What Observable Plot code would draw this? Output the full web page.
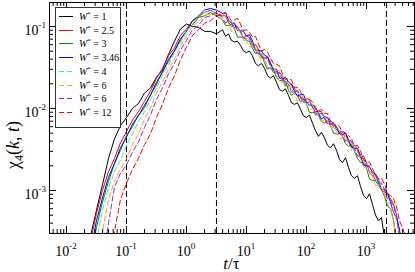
<!DOCTYPE html>
<html><head><meta charset="utf-8">
<script src="https://cdn.jsdelivr.net/npm/d3@7"></script>
<script src="https://cdn.jsdelivr.net/npm/@observablehq/plot@0.6"></script>
<style>body{margin:0;background:#fff}</style>
</head><body><div id="chart"></div>
<script>
// time grid t/τ (log-spaced)
const tValues = [0.0251,0.0316,0.0398,0.0501,0.0631,0.0794,0.1,0.126,0.158,0.2,0.251,0.316,0.398,0.501,0.631,0.794,1,1.26,1.58,2,2.51,3.16,
  3.98,4.47,5.01,5.62,6.31,7.08,7.94,8.91,10,
  11.2,12.6,14.1,15.8,17.8,20,22.4,25.1,28.2,31.6,
  35.5,39.8,44.7,50.1,56.2,63.1,70.8,79.4,89.1,100,
  112,126,141,158,178,200,224,251,282,316,
  355,398,447,501,562,631,708,794,891,1000,
  1122,1259,1413,1585,1778,1995,2239,2512,2818,3162,
  3548,3981,4467,5012];

const seriesLabels = ["1", "2.5", "3", "3.46", "4", "6", "6", "12"];

// log10 of chi_4(k,t) for each W*, aligned with tValues (null = not drawn)
const log10Chi_W1 = [-3.56,-3.24,-2.93,-2.61,-2.37,-2.21,-2.11,-2.00,-1.94,-1.81,-1.75,-1.62,-1.53,-1.34,-1.18,-1.03,-0.97,-1.00,-1.01,-1.06,-1.06,-1.09,
  -1.04,-1.12,-1.09,-1.17,-1.19,-1.18,-1.23,-1.30,-1.32,
  -1.30,-1.36,-1.45,-1.48,-1.45,-1.51,-1.60,-1.63,-1.60,-1.68,
  -1.77,-1.79,-1.76,-1.84,-1.93,-1.95,-1.93,-2.01,-2.09,-2.11,
  -2.08,-2.18,-2.27,-2.34,-2.29,-2.36,-2.45,-2.48,-2.43,-2.51,
  -2.62,-2.66,-2.60,-2.72,-2.82,-2.85,-2.82,-2.95,-3.06,-3.10,
  -3.04,-3.17,-3.30,-3.37,-3.33,-3.58,null,null,null,null,
  null,null,null,null];
const log10Chi_W2_5 = [-3.62,-3.28,-3.00,-2.77,-2.61,-2.42,-2.28,-2.14,-2.04,-1.91,-1.79,-1.63,-1.51,-1.36,-1.26,-1.11,-1.03,-0.93,-0.88,-0.83,-0.80,-0.84,
  -0.87,-0.87,-0.95,-1.00,-0.98,-1.00,-1.07,-1.14,-1.11,
  -1.14,-1.23,-1.22,-1.28,-1.38,-1.40,-1.37,-1.44,-1.53,-1.57,
  -1.56,-1.61,-1.72,-1.73,-1.70,-1.76,-1.80,-1.87,-1.92,-1.88,
  -1.89,-1.99,-2.04,-2.03,-2.04,-2.13,-2.19,-2.15,-2.18,-2.26,
  -2.29,-2.28,-2.30,-2.41,-2.47,-2.45,-2.50,-2.60,-2.58,-2.66,
  -2.78,-2.82,-2.80,-2.86,-2.99,-3.02,-3.03,-3.10,-3.16,-3.30,
  -3.50,-3.65,null,null];
const log10Chi_W3 = [-3.85,-3.45,-3.14,-2.89,-2.67,-2.51,-2.33,-2.22,-2.08,-1.99,-1.83,-1.71,-1.54,-1.43,-1.29,-1.17,-1.05,-0.98,-0.89,-0.87,-0.83,-0.87,
  -0.92,-0.99,-0.99,-0.97,-1.03,-1.13,-1.13,-1.13,-1.17,
  -1.18,-1.27,-1.33,-1.33,-1.34,-1.45,-1.52,-1.50,-1.53,-1.62,
  -1.66,-1.66,-1.67,-1.78,-1.84,-1.81,-1.84,-1.92,-1.89,-1.94,
  -2.05,-2.05,-2.05,-2.08,-2.16,-2.18,-2.15,-2.21,-2.30,-2.31,
  -2.30,-2.34,-2.43,-2.46,-2.44,-2.52,-2.61,-2.66,-2.66,-2.73,
  -2.86,-2.88,-2.88,-2.94,-2.99,-3.07,-3.19,-3.22,-3.36,-3.60,
  null,null,null,null];
const log10Chi_W3_46 = [-3.75,-3.37,-3.09,-2.84,-2.67,-2.48,-2.35,-2.19,-2.09,-1.96,-1.84,-1.68,-1.56,-1.40,-1.30,-1.15,-1.06,-0.93,-0.87,-0.80,-0.78,-0.80,
  -0.84,-0.83,-0.92,-0.96,-0.96,-1.05,-1.05,-1.06,-1.12,
  -1.10,-1.18,-1.29,-1.29,-1.30,-1.35,-1.37,-1.46,-1.52,-1.52,
  -1.63,-1.64,-1.62,-1.68,-1.71,-1.79,-1.85,-1.83,-1.83,-1.92,
  -1.96,-1.96,-1.98,-2.06,-2.13,-2.10,-2.11,-2.19,-2.19,-2.22,
  -2.31,-2.32,-2.30,-2.38,-2.47,-2.49,-2.49,-2.57,-2.69,-2.70,
  -2.71,-2.78,-2.80,-2.91,-2.99,-2.98,-3.04,-3.14,-3.27,-3.33,
  -3.48,-3.70,null,null];
const log10Chi_W4 = [null,-3.62,-3.24,-2.97,-2.77,-2.63,-2.45,-2.31,-2.16,-2.04,-1.89,-1.76,-1.59,-1.47,-1.32,-1.20,-1.06,-0.97,-0.86,-0.83,-0.81,-0.83,
  -0.91,-0.96,-0.93,-0.94,-1.04,-1.03,-1.06,-1.17,-1.17,
  -1.16,-1.21,-1.30,-1.34,-1.32,-1.38,-1.49,-1.51,-1.48,-1.55,
  -1.58,-1.67,-1.74,-1.71,-1.75,-1.82,-1.80,-1.85,-1.93,-1.95,
  -1.91,-1.97,-2.07,-2.09,-2.08,-2.11,-2.14,-2.22,-2.28,-2.24,
  -2.26,-2.35,-2.39,-2.39,-2.41,-2.52,-2.59,-2.58,-2.63,-2.74,
  -2.80,-2.79,-2.83,-2.94,-2.92,-3.00,-3.14,-3.17,-3.25,-3.36,
  -3.57,-3.70,null,null];
const log10Chi_W6a = [null,-3.85,-3.50,-3.11,-2.89,-2.74,-2.61,-2.44,-2.31,-2.13,-1.99,-1.81,-1.68,-1.52,-1.40,-1.24,-1.11,-1.00,-0.94,-0.86,-0.85,-0.85,
  -0.93,-0.92,-0.96,-1.06,-1.05,-1.03,-1.09,-1.12,-1.18,
  -1.25,-1.24,-1.25,-1.35,-1.41,-1.41,-1.49,-1.52,-1.50,-1.58,
  -1.67,-1.68,-1.68,-1.74,-1.75,-1.83,-1.91,-1.88,-1.90,-1.96,
  -2.02,-2.01,-2.01,-2.10,-2.16,-2.14,-2.16,-2.23,-2.23,-2.27,
  -2.37,-2.36,-2.35,-2.42,-2.51,-2.53,-2.53,-2.62,-2.71,-2.75,
  -2.75,-2.83,-2.94,-2.95,-2.97,-3.04,-3.17,-3.22,-3.37,-3.62,
  null,null,null,null];
const log10Chi_W6b = [null,null,-3.90,-3.40,-2.96,-2.79,-2.69,-2.53,-2.41,-2.23,-2.08,-1.89,-1.75,-1.58,-1.45,-1.29,-1.17,-1.04,-0.99,-0.89,-0.87,-0.83,
  -0.89,-0.96,-0.93,-0.95,-1.02,-1.00,-1.06,-1.14,-1.15,
  -1.13,-1.21,-1.31,-1.32,-1.37,-1.38,-1.39,-1.49,-1.57,-1.55,
  -1.57,-1.65,-1.66,-1.71,-1.80,-1.80,-1.78,-1.85,-1.92,-1.93,
  -1.92,-1.98,-2.08,-2.07,-2.06,-2.11,-2.18,-2.20,-2.17,-2.24,
  -2.26,-2.33,-2.40,-2.38,-2.40,-2.49,-2.58,-2.57,-2.62,-2.70,
  -2.70,-2.79,-2.88,-2.90,-2.91,-2.99,-3.10,-3.12,-3.19,-3.32,
  -3.55,-3.68,null,null];
const log10Chi_W12 = [null,null,null,-3.95,-3.50,-3.11,-2.91,-2.74,-2.61,-2.44,-2.31,-2.11,-1.95,-1.75,-1.60,-1.41,-1.25,-1.11,-1.04,-0.96,-0.93,-0.87,
  -0.86,-0.83,-0.88,-0.93,-0.92,-0.90,-0.97,-1.05,-1.04,
  -1.07,-1.13,-1.12,-1.21,-1.30,-1.28,-1.31,-1.39,-1.45,-1.46,
  -1.48,-1.58,-1.65,-1.64,-1.65,-1.75,-1.74,-1.79,-1.89,-1.89,
  -1.89,-1.92,-2.01,-2.03,-2.01,-2.06,-2.06,-2.16,-2.22,-2.19,
  -2.22,-2.29,-2.36,-2.33,-2.37,-2.46,-2.45,-2.52,-2.62,-2.66,
  -2.65,-2.73,-2.82,-2.86,-2.85,-2.92,-3.04,-3.06,-3.10,-3.20,
  -3.37,-3.45,-3.57,-3.75];

// vertical dashed reference times
const markerTimes = [0.1, 3.16, 2150];
// axis tick values
const xTickValues = [0.01, 0.1, 1, 10, 100, 1000];
const yTickValues = [0.001, 0.01, 0.1];

const seriesData = [log10Chi_W1, log10Chi_W2_5, log10Chi_W3, log10Chi_W3_46, log10Chi_W4, log10Chi_W6a, log10Chi_W6b, log10Chi_W12];
const seriesStyle = [
  {color: "#000000", dash: null},
  {color: "#ff0000", dash: null},
  {color: "#009000", dash: null},
  {color: "#0000ff", dash: null},
  {color: "#40e0d0", dash: "5,3"},
  {color: "#ffa500", dash: "5,3"},
  {color: "#a020f0", dash: "5,3"},
  {color: "#ff0000", dash: "5,3"}
];

const W = 415, H = 272, mL = 49, mR = 1, mT = 2, mB = 39;
const fw = W - mL - mR, fh = H - mT - mB;
const xDomain = [0.00521, 6310], yDomain = [0.000299, 0.196];

const rows = [];
seriesData.forEach((arr, s) => arr.forEach((v, i) => {
  if (v != null) rows.push({series: s, t: tValues[i], chi: Math.pow(10, v)});
}));

function minors(lo, hi) {
  const out = [];
  for (let e = -5; e <= 5; e++) for (let m = 2; m <= 9; m++) {
    const v = m * Math.pow(10, e);
    if (v > lo && v < hi) out.push(v);
  }
  return out;
}
const xMinor = minors(xDomain[0], xDomain[1]);
const yMinor = minors(yDomain[0], yDomain[1]);

const chart = Plot.plot({
  width: W, height: H,
  marginLeft: mL, marginRight: mR, marginTop: mT, marginBottom: mB,
  x: {type: "log", domain: xDomain, axis: null},
  y: {type: "log", domain: yDomain, axis: null},
  style: {background: "white", fontFamily: "Liberation Serif"},
  marks: [
    Plot.ruleX(markerTimes, {x: d => d, stroke: "black", strokeWidth: 1, strokeDasharray: "6,3"}),
    ...seriesStyle.map((s, k) => Plot.line(rows.filter(r => r.series === k), {
      x: "t", y: "chi", stroke: s.color, strokeWidth: 1, strokeDasharray: s.dash, clip: true
    })),
    Plot.tickX(xTickValues, {x: d => d, insetTop: fh - 7, stroke: "black"}),
    Plot.tickX(xTickValues, {x: d => d, insetBottom: fh - 7, stroke: "black"}),
    Plot.tickX(xMinor, {x: d => d, insetTop: fh - 4, stroke: "black"}),
    Plot.tickX(xMinor, {x: d => d, insetBottom: fh - 4, stroke: "black"}),
    Plot.tickY(yTickValues, {y: d => d, insetRight: fw - 7, stroke: "black"}),
    Plot.tickY(yTickValues, {y: d => d, insetLeft: fw - 7, stroke: "black"}),
    Plot.tickY(yMinor, {y: d => d, insetRight: fw - 4, stroke: "black"}),
    Plot.tickY(yMinor, {y: d => d, insetLeft: fw - 4, stroke: "black"}),
    Plot.frame({stroke: "black", strokeWidth: 1})
  ]
});

const svg = d3.select(chart);
const sx = chart.scale("x"), sy = chart.scale("y");
const FONT = "Liberation Serif";

// x tick labels
xTickValues.forEach(v => {
  const t = svg.append("text").attr("x", sx.apply(v)).attr("y", 256)
    .attr("text-anchor", "middle").attr("font-family", FONT).attr("font-size", 14).attr("fill", "black");
  t.append("tspan").text("10");
  t.append("tspan").attr("dy", -7).attr("font-size", 9).text(String(Math.round(Math.log10(v))));
});
// y tick labels
yTickValues.forEach(v => {
  const t = svg.append("text").attr("x", 46).attr("y", sy.apply(v) + 9)
    .attr("text-anchor", "end").attr("font-family", FONT).attr("font-size", 14).attr("fill", "black");
  t.append("tspan").text("10");
  t.append("tspan").attr("dy", -7).attr("font-size", 9).text(String(Math.round(Math.log10(v))));
});
// x title
{
  const t = svg.append("text").attr("x", (mL + W - mR) / 2).attr("y", 269)
    .attr("text-anchor", "middle").attr("font-family", FONT).attr("font-size", 17).attr("fill", "black");
  t.append("tspan").attr("font-style", "italic").text("t");
  t.append("tspan").text("/τ");
}
// y title
{
  const t = svg.append("text").attr("transform", "translate(19,145) rotate(-90)")
    .attr("text-anchor", "middle").attr("font-family", FONT).attr("font-size", 18).attr("fill", "black");
  t.append("tspan").text("χ");
  t.append("tspan").attr("dy", 4).attr("font-size", 12).text("4");
  t.append("tspan").attr("dy", -4).text("(");
  t.append("tspan").attr("font-style", "italic").text("k");
  t.append("tspan").text(", ");
  t.append("tspan").attr("font-style", "italic").text("t");
  t.append("tspan").text(")");
}
// legend
{
  const g = svg.append("g");
  g.append("rect").attr("x", 55.5).attr("y", 7.5).attr("width", 65).attr("height", 120)
    .attr("fill", "white").attr("stroke", "#333").attr("stroke-width", 1);
  seriesLabels.forEach((lab, i) => {
    const yy = Math.round(16 + i * 13.7) + 0.5;
    const s = seriesStyle[i];
    g.append("line").attr("x1", 59).attr("x2", 73).attr("y1", yy).attr("y2", yy)
      .attr("stroke", s.color).attr("stroke-width", 1).attr("stroke-dasharray", s.dash);
    const t = g.append("text").attr("x", 79).attr("y", yy + 3.5).attr("text-anchor", "start")
      .attr("font-family", FONT).attr("font-size", 10).attr("fill", "black");
    t.append("tspan").attr("font-style", "italic").text("W");
    t.append("tspan").attr("dy", -4).attr("font-size", 7).text("*");
    t.append("tspan").attr("dy", 4).text(" = " + lab);
  });
}

document.getElementById("chart").appendChild(chart);
</script>
</body></html>
